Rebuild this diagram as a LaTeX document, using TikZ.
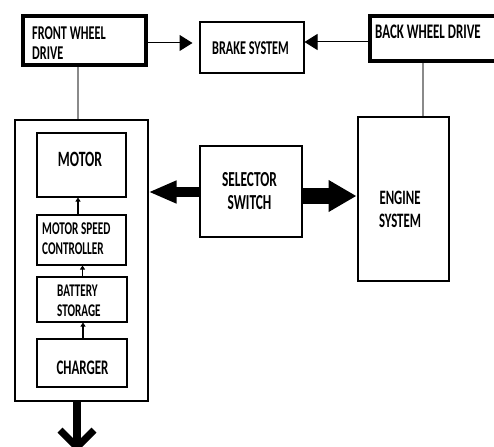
\documentclass[tikz,border=0pt]{standalone}
\usepackage{fontspec}
\usepackage{graphicx}
\setmainfont{Carlito}
\usetikzlibrary{arrows.meta}
\newcommand\sq[1]{\scalebox{0.72}[1.15]{#1}}
\definecolor{linegray}{HTML}{8A8A8A}
\tikzset{
  box/.style={draw=black, line width=2pt, rectangle, inner sep=0pt},
  thickbox/.style={draw=black, line width=4pt, rectangle, inner sep=0pt},
  lbl/.style={inner sep=0pt, font=\bfseries\fontsize{#1}{#1}\selectfont},
  conn/.style={draw=linegray, line width=1.2pt},
  thinarrow/.style={draw=black, line width=1pt, -{Triangle[length=13pt,width=16pt]}},
  smallarrow/.style={draw=black, line width=1.5pt, -{Triangle[length=4pt,width=5pt]}},
}
\begin{document}
\begin{tikzpicture}[x=1pt,y=-1pt]
\useasboundingbox (0,0) rectangle (494,446);
\fill[white] (0,0) rectangle (494,446);

% boxes
\node[thickbox, minimum width=123pt, minimum height=49pt] (fwd) at (84.5,40.5) {};
\node[box, minimum width=104pt, minimum height=51pt] (brake) at (251.5,48) {};
\node[thickbox, minimum width=130pt, minimum height=45pt] (bwd) at (435,38.5) {};
\node[box, minimum width=133pt, minimum height=280pt] (big) at (81,260.5) {};
\node[box, minimum width=89pt, minimum height=63pt] (motor) at (81,165) {};
\node[box, minimum width=89pt, minimum height=50pt] (msc) at (81,239.5) {};
\node[box, minimum width=90pt, minimum height=45pt] (batt) at (81.5,299) {};
\node[box, minimum width=90pt, minimum height=48pt] (charger) at (81.5,362.5) {};
\node[box, minimum width=102pt, minimum height=90pt] (selector) at (250.5,191.5) {};
\node[box, minimum width=91pt, minimum height=163pt] (engine) at (403,199) {};

% texts
\node[lbl={18}, align=left, anchor=west, font=\bfseries\fontsize{17}{20}\selectfont] (fwdt) at (32,43) {\sq{FRONT WHEEL}\\\sq{DRIVE}};
\node[lbl={17}] (braket) at (250.5,48) {\sq{BRAKE SYSTEM}};
\node[lbl={18}, anchor=west] (bwdt) at (375,32) {\sq{BACK WHEEL DRIVE}};
\node[lbl={19}] (motort) at (80,159) {\sq{MOTOR}};
\node[lbl={15.6}, align=left, anchor=west, font=\bfseries\fontsize{15.6}{20}\selectfont] (msct) at (42,239) {\sq{MOTOR SPEED}\\\sq{CONTROLLER}};
\node[lbl={16}, align=left, anchor=west, font=\bfseries\fontsize{15.5}{19.5}\selectfont] (battt) at (57,301) {\sq{BATTERY}\\\sq{STORAGE}};
\node[lbl={18}] (chargert) at (82.5,368) {\sq{CHARGER}};
\node[lbl={18.6}, align=center, font=\bfseries\fontsize{18.6}{23}\selectfont] (selectort) at (249.5,191.5) {\sq{SELECTOR}\\\sq{SWITCH}};
\node[lbl={17.8}, align=center, font=\bfseries\fontsize{17.8}{23}\selectfont] (enginet) at (400,209.5) {\sq{ENGINE}\\\sq{SYSTEM}};

% gray connectors
\draw[conn] ([xshift=-6.5pt]fwd.south) -- ([xshift=-6.5pt]fwd.south |- big.north);
\draw[conn] ([xshift=-12pt]bwd.south) -- ([xshift=-12pt]bwd.south |- engine.north);

% arrows to brake
\draw[thinarrow, shorten >=6pt] ([yshift=-2.5pt]fwd.east) -- ([yshift=5pt]brake.west);
\draw[thinarrow] ([yshift=-3.5pt]bwd.west) -- ([yshift=6pt]brake.east);

% fat arrows from selector
\draw[line width=10pt, -{Triangle[length=28pt,width=21pt]}] ([yshift=-0.5pt]selector.west) -- ([yshift=-0.5pt]big.east |- selector.west);
\draw[line width=16pt, -{Triangle[length=28pt,width=30pt]}] ([yshift=-4.5pt]selector.east) -- ([yshift=-4.5pt]engine.west |- selector.east);

% small arrows inside
\draw[smallarrow] ([xshift=-3pt]msc.north) -- ([xshift=-3pt]msc.north |- motor.south);
\draw[smallarrow] ([xshift=1pt]batt.north) -- ([xshift=1pt]batt.north |- msc.south);
\draw[smallarrow] ([xshift=1.5pt]charger.north) -- ([xshift=1.5pt]charger.north |- batt.south);

% bottom arrow
\coordinate (botend) at (77,452);
\draw[line width=8pt, -{Straight Barb[length=17pt,width=34pt,line width=7pt]}] ([xshift=-4pt]big.south) -- (botend);
\end{tikzpicture}
\end{document}
